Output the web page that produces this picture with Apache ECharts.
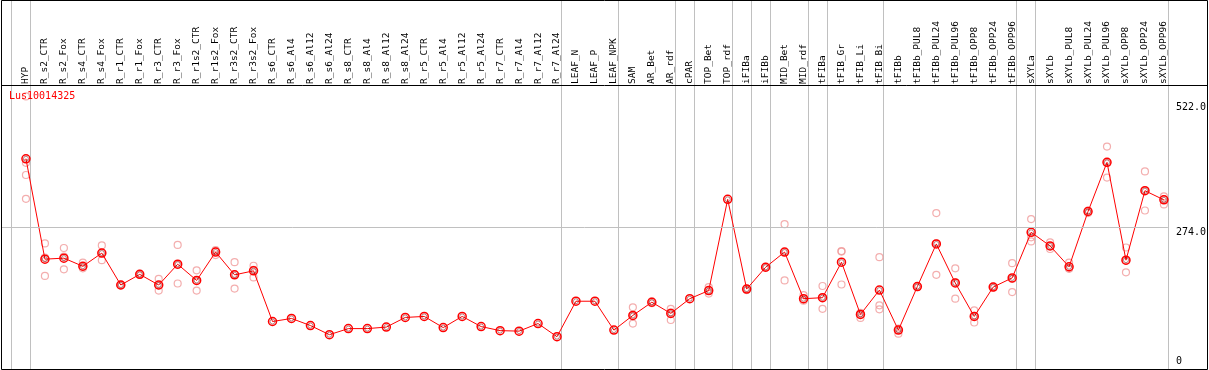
<!DOCTYPE html>
<html>
<head>
<meta charset="utf-8">
<script src="https://cdn.jsdelivr.net/npm/echarts@6/dist/echarts.min.js"></script>
<style>
html,body{margin:0;padding:0;background:#fff;}
#chart{width:1209px;height:370px;}
</style>
</head>
<body>
<div id="chart"></div>
<script>
// ---- data ----
const geneName = 'Lus10014325';
const categories = ['HYP','R_s2_CTR','R_s2_Fox','R_s4_CTR','R_s4_Fox','R_r1_CTR','R_r1_Fox','R_r3_CTR','R_r3_Fox',
  'R_r1s2_CTR','R_r1s2_Fox','R_r3s2_CTR','R_r3s2_Fox','R_s6_CTR','R_s6_Al4','R_s6_Al12','R_s6_Al24',
  'R_s8_CTR','R_s8_Al4','R_s8_Al12','R_s8_Al24','R_r5_CTR','R_r5_Al4','R_r5_Al12','R_r5_Al24',
  'R_r7_CTR','R_r7_Al4','R_r7_Al12','R_r7_Al24','LEAF_N','LEAF_P','LEAF_NPK','SAM','AR_Bet','AR_rdf',
  'cPAR','TOP_Bet','TOP_rdf','iFIBa','iFIBb','MID_Bet','MID_rdf','tFIBa','tFIB_Gr','tFIB_Li','tFIB_Bi',
  'tFIBb','tFIBb_PUL8','tFIBb_PUL24','tFIBb_PUL96','tFIBb_OPP8','tFIBb_OPP24','tFIBb_OPP96',
  'sXYLa','sXYLb','sXYLb_PUL8','sXYLb_PUL24','sXYLb_PUL96','sXYLb_OPP8','sXYLb_OPP24','sXYLb_OPP96'];
const meanValues = [410,212,214,198,224,161,182,161,202,170,226,181,189,89,95,81,63,75,75,78,97,99,77,99,79,
  71,70,85,59,129,129,72,101,127,105,134,150,330,153,196,226,134,136,206,103,151,72,158,242,165,99,157,175,
  265,238,197,306,403,210,347,329];
const replicateValues = [
  [533,402,378,331],[243,215,179],[234,217,192],[205,197,194],[239,224,210],[162,160,161],[183,181,182],
  [173,160,150],[240,201,164],[190,170,150],[230,228,220],[206,182,154],[199,191,176],
  [],[],[],[],[],[],[],[],[],[],[],[],[],[],[],[],[],[],[],
  [117,100,85],[129,125],[114,107,92],[],[157,150,144],[],[154,151],[197,195],[281,226,170],[141,132,130],
  [159,136,114],[227,228,162],[106,103,96],[216,121,113],[75,72,65],[159,157],[303,243,181],[194,166,134],
  [111,100,87],[158,156],[204,173,147],[291,255,247],[245,238,232],[205,194,193],[308,306,303],
  [434,402,373],[235,209,186],[385,347,308],[336,330,320]];
const groupEnds = [-1,0,28,31,34,35,37,38,39,41,42,45,52,53,60];
const yTickTop = [274,522];
const yTickBottom = [0];
const refLineValue = 274;

// ---- build ----
const FONT = "'DejaVu Sans Mono', 'Liberation Mono', monospace";
const meanData = meanValues.map((v,i)=>[i,v]);
const repData = [];
replicateValues.forEach((arr,i)=>arr.forEach(v=>repData.push([i,v])));
const catIdx = categories.map((c,i)=>i);

const chart = echarts.init(document.getElementById('chart'), null, {renderer:'canvas'});
const xMin = -25/19, xMax = 1144/19;
const yMin = -4.7, yMax = 553.6;

const option = {
  animation:false,
  backgroundColor:'#fff',
  title:{text:geneName,left:9,top:91,padding:0,textStyle:{color:'#ff0000',fontSize:10,fontWeight:'normal',fontFamily:FONT}},
  grid:{left:1,right:39,top:86,bottom:1,containLabel:false},
  xAxis:{type:'value',position:'top',min:xMin,max:xMax,
    axisLine:{show:false},axisTick:{show:false},splitLine:{show:false},
    axisLabel:{customValues:catIdx,rotate:90,margin:2,color:'#000',fontSize:9.5,fontFamily:FONT,
      formatter:v=>categories[Math.round(v)]||''}},
  yAxis:[
    {type:'value',position:'right',min:yMin,max:yMax,
      axisLine:{show:false},axisTick:{show:false},splitLine:{show:false},
      axisLabel:{customValues:yTickTop,verticalAlign:'top',margin:8,color:'#000',fontSize:10,fontFamily:FONT,
        formatter:v=>v.toFixed(1)}},
    {type:'value',position:'right',min:yMin,max:yMax,
      axisLine:{show:false},axisTick:{show:false},splitLine:{show:false},
      axisLabel:{customValues:yTickBottom,verticalAlign:'bottom',margin:8,color:'#000',fontSize:10,fontFamily:FONT,
        formatter:v=>String(v)}}
  ],
  graphic:[
    {type:'rect',shape:{x:1.5,y:0.5,width:1206,height:369},style:{fill:'none',stroke:'#000',lineWidth:1},z:100,silent:true},
    {type:'line',shape:{x1:1,y1:85.5,x2:1208,y2:85.5},style:{stroke:'#000',lineWidth:1},z:100,silent:true}
  ],
  series:[
    {type:'custom',data:groupEnds.map(g=>[g,0]),encode:{x:0,y:1},silent:true,z:1,clip:false,
      renderItem:function(params,api){
        const x=Math.round(api.coord([api.value(0),0])[0]+4)+0.5;
        const cs=params.coordSys;
        return {type:'line',shape:{x1:x,y1:0,x2:x,y2:cs.y+cs.height},style:{stroke:'#c0c0c0',lineWidth:1}};
      }},
    {type:'line',data:[],silent:true,z:1,
      markLine:{silent:true,symbol:'none',label:{show:false},lineStyle:{color:'#c0c0c0',width:1,type:'solid'},
        data:[{yAxis:refLineValue}]}},
    {type:'scatter',data:repData,symbol:'circle',symbolSize:7,silent:true,z:2,
      itemStyle:{color:'rgba(0,0,0,0)',borderColor:'#f09a9a',borderWidth:1.2}},
    {type:'line',data:meanData,symbol:'circle',symbolSize:8,showAllSymbol:true,silent:true,z:3,
      lineStyle:{color:'#ff0000',width:1},
      itemStyle:{color:'rgba(0,0,0,0)',borderColor:'#ff0000',borderWidth:1.5}},
    {type:'scatter',data:meanData,symbol:'circle',symbolSize:5,silent:true,z:4,
      itemStyle:{color:'rgba(0,0,0,0)',borderColor:'#700000',borderWidth:0.6}}
  ]
};
chart.setOption(option);
</script>
</body>
</html>
